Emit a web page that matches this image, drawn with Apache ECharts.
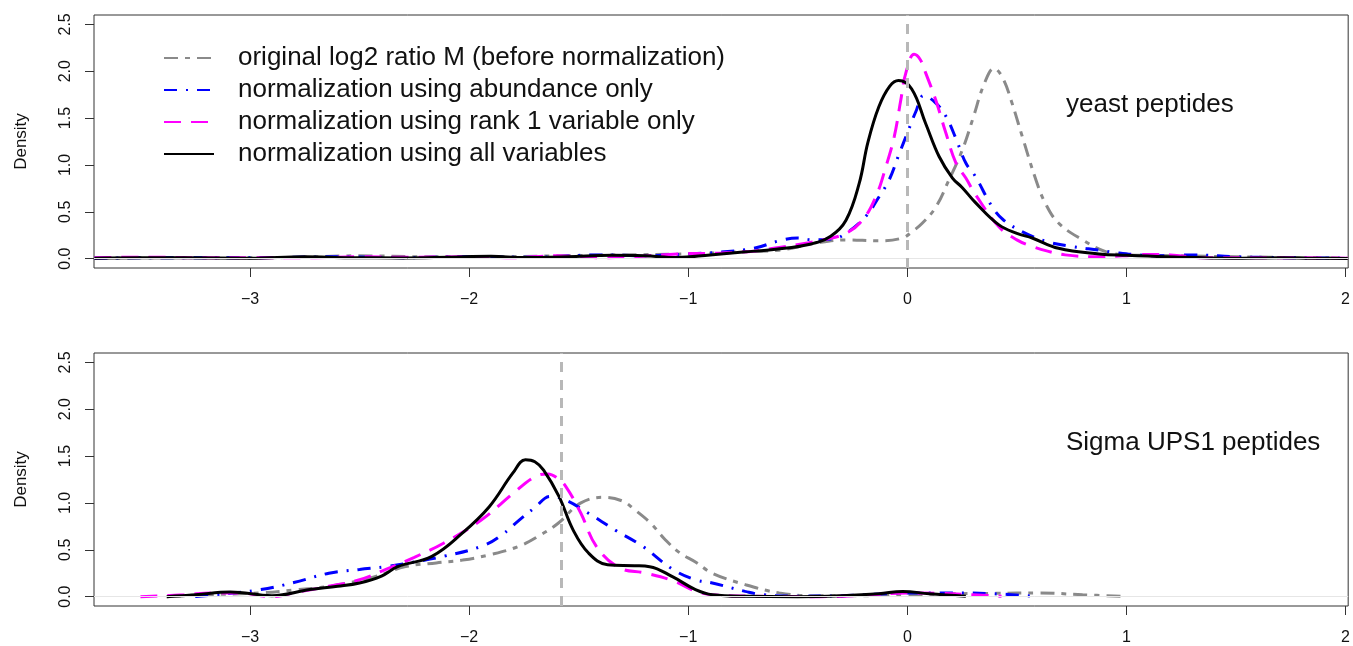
<!DOCTYPE html>
<html lang="en">
<head>
    <meta charset="utf-8">
    <script src="https://cdn.jsdelivr.net/npm/echarts@6/dist/echarts.min.js"></script>
    <style>
        html, body { margin: 0; padding: 0; background: #fff; }
    </style>
</head>
<body>
<div id="main" style="width: 1353px;height:646px;"></div>
<script type="text/javascript">
    // names of the four density curves
    var seriesNames = [
        'original log2 ratio M (before normalization)',
        'normalization using abundance only',
        'normalization using rank 1 variable only',
        'normalization using all variables'
    ];
    var xTicks = [-3, -2, -1, 0, 1, 2];
    var yTicks = [0, 0.5, 1, 1.5, 2, 2.5];
    // expected log2 ratios (yeast 1:1, UPS1 1:3)
    var refYeast = 0;
    var refUps = Math.log2(1 / 3);

    // yeast peptides, [M, density]
    var yeastOriginal = [[-3.71,0.005],[-3.3,0.01],[-2.9,0.01],[-2.5,0.03],[-2.2,0.02],[-1.9,0.02],[-1.6,0.03],[-1.3,0.04],[-1.0,0.05],[-0.8,0.07],[-0.585,0.09],[-0.43,0.16],[-0.28,0.20],[-0.13,0.19],[-0.023,0.22],[0.023,0.29],[0.069,0.38],[0.13,0.55],[0.19,0.84],[0.251,1.16],[0.3,1.5],[0.35,1.86],[0.396,2.03],[0.435,1.93],[0.475,1.68],[0.525,1.3],[0.587,0.84],[0.63,0.59],[0.69,0.38],[0.8,0.2],[0.905,0.075],[1.0,0.04],[1.25,0.03],[1.5,0.02],[1.8,0.01],[2.01,0.005]];
    var yeastAbundance = [[-3.71,0.005],[-3.4,0.01],[-3.0,0.01],[-2.6,0.02],[-2.3,0.01],[-2.0,0.02],[-1.7,0.015],[-1.4,0.04],[-1.2,0.03],[-1.0,0.05],[-0.85,0.07],[-0.7,0.11],[-0.585,0.19],[-0.5,0.22],[-0.43,0.2],[-0.34,0.21],[-0.28,0.27],[-0.19,0.45],[-0.129,0.66],[-0.083,0.84],[-0.037,1.12],[0.0,1.34],[0.039,1.57],[0.075,1.74],[0.13,1.66],[0.176,1.52],[0.222,1.28],[0.267,1.02],[0.31,0.88],[0.388,0.55],[0.44,0.41],[0.54,0.27],[0.64,0.18],[0.75,0.13],[0.875,0.09],[0.95,0.065],[1.05,0.04],[1.15,0.03],[1.3,0.04],[1.5,0.02],[1.7,0.01],[2.01,0.005]];
    var yeastRank1 = [[-3.71,0.01],[-3.5,0.015],[-3.2,0.01],[-3.0,0.01],[-2.7,0.01],[-2.5,0.02],[-2.3,0.015],[-2.0,0.02],[-1.8,0.01],[-1.6,0.03],[-1.4,0.01],[-1.25,0.02],[-1.05,0.05],[-0.85,0.06],[-0.7,0.08],[-0.585,0.12],[-0.45,0.17],[-0.387,0.20],[-0.28,0.27],[-0.205,0.41],[-0.144,0.66],[-0.098,0.98],[-0.06,1.30],[-0.03,1.69],[-0.007,1.98],[0.031,2.18],[0.06,2.12],[0.084,1.98],[0.13,1.69],[0.176,1.34],[0.222,1.02],[0.267,0.86],[0.312,0.68],[0.418,0.34],[0.5,0.2],[0.57,0.13],[0.64,0.08],[0.72,0.04],[0.85,0.02],[0.98,0.03],[1.1,0.045],[1.2,0.04],[1.35,0.01],[1.6,0.01],[2.01,0.005]];
    var yeastAll = [[-3.71,0.005],[-3.5,0.01],[-3.3,0.01],[-3.0,0.005],[-2.75,0.02],[-2.55,0.01],[-2.3,0.008],[-2.1,0.015],[-1.9,0.025],[-1.75,0.012],[-1.55,0.02],[-1.35,0.035],[-1.2,0.03],[-1.05,0.012],[-0.9,0.04],[-0.75,0.07],[-0.6,0.1],[-0.45,0.15],[-0.35,0.24],[-0.28,0.41],[-0.22,0.80],[-0.18,1.24],[-0.13,1.62],[-0.08,1.84],[-0.04,1.90],[0.02,1.81],[0.084,1.44],[0.145,1.09],[0.206,0.86],[0.25,0.76],[0.31,0.6],[0.418,0.36],[0.5,0.27],[0.57,0.22],[0.69,0.11],[0.875,0.05],[1.0,0.035],[1.18,0.02],[1.48,0.005],[1.7,0.01],[1.85,0.005],[2.01,0.002]];

    // Sigma UPS1 peptides, [M, density]
    var upsOriginal = [[-3.38,0],[-3.2,0.02],[-2.95,0.04],[-2.8,0.07],[-2.64,0.11],[-2.45,0.2],[-2.29,0.32],[-2.15,0.36],[-2.03,0.39],[-1.9,0.45],[-1.77,0.54],[-1.68,0.65],[-1.595,0.78],[-1.49,1.0],[-1.385,1.06],[-1.3,1.02],[-1.246,0.93],[-1.17,0.78],[-1.106,0.61],[-1.04,0.47],[-0.967,0.37],[-0.89,0.25],[-0.74,0.128],[-0.585,0.04],[-0.43,0.01],[-0.2,0.01],[0.0,0.02],[0.2,0.03],[0.4,0.035],[0.6,0.04],[0.8,0.02],[1.0,0.002]];
    var upsAbundance = [[-3.25,0],[-3.16,0.02],[-2.95,0.075],[-2.8,0.15],[-2.64,0.25],[-2.5,0.29],[-2.38,0.32],[-2.25,0.37],[-2.117,0.43],[-1.94,0.54],[-1.85,0.66],[-1.77,0.82],[-1.70,0.95],[-1.63,1.07],[-1.56,1.03],[-1.455,0.89],[-1.333,0.71],[-1.21,0.54],[-1.07,0.29],[-0.967,0.18],[-0.89,0.146],[-0.74,0.056],[-0.66,0.02],[-0.5,0.005],[-0.3,0.01],[-0.1,0.03],[0.0,0.04],[0.2,0.04],[0.4,0.03],[0.58,0.003]];
    var upsRank1 = [[-3.50,0],[-3.3,0.02],[-3.16,0.04],[-3.05,0.04],[-2.90,0.0],[-2.78,0.05],[-2.64,0.11],[-2.5,0.18],[-2.38,0.29],[-2.25,0.42],[-2.117,0.57],[-1.943,0.82],[-1.80,1.1],[-1.70,1.28],[-1.64,1.31],[-1.60,1.27],[-1.56,1.18],[-1.49,0.89],[-1.42,0.54],[-1.316,0.31],[-1.194,0.25],[-1.07,0.17],[-0.967,0.06],[-0.89,0.02],[-0.7,0.005],[-0.4,0.0],[-0.2,0.015],[0.0,0.04],[0.15,0.035],[0.3,0.02],[0.43,0.003]];
    var upsAll = [[-3.38,0],[-3.25,0.02],[-3.09,0.05],[-2.9,0.01],[-2.727,0.075],[-2.6,0.11],[-2.5,0.146],[-2.4,0.22],[-2.326,0.32],[-2.17,0.43],[-2.03,0.68],[-1.908,0.96],[-1.80,1.32],[-1.743,1.46],[-1.70,1.44],[-1.66,1.35],[-1.59,1.07],[-1.525,0.71],[-1.455,0.465],[-1.368,0.34],[-1.246,0.33],[-1.176,0.32],[-1.07,0.21],[-0.967,0.075],[-0.89,0.02],[-0.74,0.003],[-0.5,0.0],[-0.3,0.01],[-0.13,0.03],[-0.022,0.056],[0.1,0.03],[0.267,0.003]];

    var font = '"Liberation Sans", Arial, Helvetica, sans-serif';
    var colors = ['#8a8a8a', '#0000ff', '#ff00ff', '#000000'];
    var dashes = [[14, 7, 5, 7], [13, 9, 2, 9], [17, 10], 'solid'];

    var myChart = echarts.init(document.getElementById('main'));

    function makeX(idx) {
        return {
            type: 'value', gridIndex: idx, min: -3.712, max: 2.012,
            axisLine: { show: false, onZero: false },
            axisTick: { show: true, length: 9, customValues: xTicks, lineStyle: { color: '#333' } },
            axisLabel: {
                customValues: xTicks, margin: 24, fontSize: 16, color: '#111', fontFamily: font,
                formatter: function (v) { return String(v).replace('-', '\u2212'); }
            },
            splitLine: { show: false }
        };
    }
    function makeY(idx) {
        return {
            type: 'value', gridIndex: idx, min: -0.1, max: 2.6,
            name: 'Density', nameLocation: 'middle', nameGap: 64,
            nameTextStyle: { fontSize: 17, color: '#111', fontFamily: font },
            axisLine: { show: false, onZero: false },
            axisTick: { show: true, length: 9, customValues: yTicks, lineStyle: { color: '#333' } },
            axisLabel: {
                customValues: yTicks, rotate: 90, margin: 20, fontSize: 16, color: '#111', fontFamily: font,
                formatter: function (v) { return v.toFixed(1); }
            },
            splitLine: { show: false }
        };
    }
    function makeSeries(i, data, idx, ref) {
        var s = {
            name: seriesNames[i], type: 'line', data: data,
            xAxisIndex: idx, yAxisIndex: idx,
            smooth: 0.4, symbol: 'none', z: 2 + i,
            lineStyle: { color: colors[i], width: 3, type: dashes[i] },
            itemStyle: { color: colors[i] }
        };
        if (i === 0) {
            s.markLine = {
                silent: true, symbol: 'none', label: { show: false }, z: 10,
                data: [
                    { yAxis: 0, lineStyle: { color: '#e6e6e6', width: 1, type: 'solid' } },
                    { xAxis: ref, lineStyle: { color: '#b8b8b8', width: 3, type: [10, 8] } }
                ]
            };
        }
        return s;
    }

    var titleStyle = { fontSize: 26, fontWeight: 'normal', color: '#111', fontFamily: font };
    var option = {
        animation: false,
        textStyle: { fontFamily: font },
        grid: [
            { left: 94, right: 3, top: 15, height: 253, show: true, borderColor: '#333', borderWidth: 1 },
            { left: 94, right: 3, top: 353, height: 253, show: true, borderColor: '#333', borderWidth: 1 }
        ],
        title: [
            { text: 'yeast peptides', left: 1066, top: 92, padding: 0, textStyle: titleStyle },
            { text: 'Sigma UPS1 peptides', left: 1066, top: 430, padding: 0, textStyle: titleStyle }
        ],
        legend: {
            data: seriesNames, orient: 'vertical', left: 163, top: 44,
            itemWidth: 50, itemHeight: 14, itemGap: 4, padding: 0,
            selectedMode: false,
            itemStyle: { opacity: 0 },
            textStyle: { fontSize: 26, lineHeight: 28, color: '#111', fontFamily: font, padding: [0, 0, 0, 19] }
        },
        xAxis: [makeX(0), makeX(1)],
        yAxis: [makeY(0), makeY(1)],
        series: [
            makeSeries(0, yeastOriginal, 0, refYeast),
            makeSeries(1, yeastAbundance, 0),
            makeSeries(2, yeastRank1, 0),
            makeSeries(3, yeastAll, 0),
            makeSeries(0, upsOriginal, 1, refUps),
            makeSeries(1, upsAbundance, 1),
            makeSeries(2, upsRank1, 1),
            makeSeries(3, upsAll, 1)
        ]
    };
    myChart.setOption(option);
</script>
</body>
</html>
